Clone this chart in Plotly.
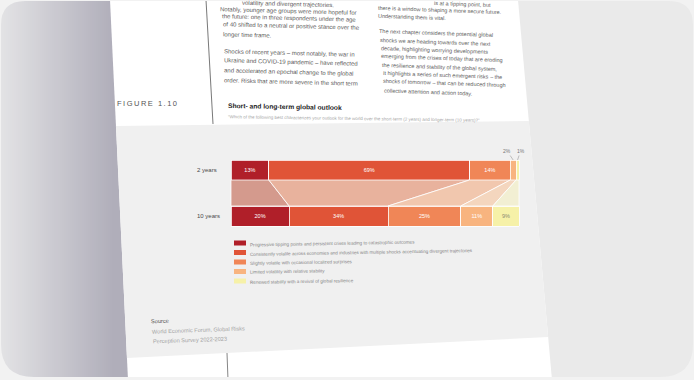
import plotly.graph_objects as go

W, H = 694, 380

# ---------------- data ----------------
periods = ["2 years", "10 years"]
categories = [
    "Progressive tipping points and persistent crises leading to catastrophic outcomes",
    "Consistently volatile across economies and industries with multiple shocks accentuating divergent trajectories",
    "Slightly volatile with occasional localized surprises",
    "Limited volatility with relative stability",
    "Renewed stability with a revival of global resilience",
]
short_term = [13, 69, 14, 2, 1]
long_term = [20, 34, 25, 11, 9]
bar_colors = ["#B01F29", "#E05437", "#F08657", "#F8B47F", "#F6F1A8"]
band_colors = ["#D49A8D", "#E8B29D", "#F1C7AE", "#F4D6BE", "#F2EFD3"]
label_colors = ["#FFFFFF", "#FFFFFF", "#FFFFFF", "#FFFFFF", "#8A8A70"]

figure_label = "FIGURE 1.10"
title = "Short- and long-term global outlook"
subtitle = ("\u201cWhich of the following best characterizes your outlook for the world over the "
            "short-term (2 years) and longer-term (10 years)?\u201d")
source_lines = ["Source", "World Economic Forum, Global Risks", "Perception Survey 2022-2023"]
col1_lines = [
    "volatility and divergent trajectories.",
    "Notably, younger age groups were more hopeful for",
    "the future: one in three respondents under the age",
    "of 40 shifted to a neutral or positive stance over the",
    "longer time frame.",
    "Shocks of recent years \u2013 most notably, the war in",
    "Ukraine and COVID-19 pandemic \u2013 have reflected",
    "and accelerated an epochal change to the global",
    "order. Risks that are more severe in the short term",
]
col2_lines = [
    "is at a tipping point, but",
    "there is a window to shaping a more secure future.",
    "Understanding them is vital.",
    "The next chapter considers the potential global",
    "shocks we are heading towards over the next",
    "decade, highlighting worrying developments",
    "emerging from the crises of today that are eroding",
    "the resilience and stability of the global system,",
    "It highlights a series of such emergent risks \u2013 the",
    "shocks of tomorrow \u2013 that can be reduced through",
    "collective attention and action today.",
]

# ---------------- layout helpers ----------------
FONT = "Liberation Sans, Arial, sans-serif"


def px(x):
    return x / W


def py(y):
    return 1 - y / H


total = sum(short_term)
PX_X0, PX_X1 = 231, 519
sx = (PX_X1 - PX_X0) / total
x_range = [-PX_X0 / sx, total + (W - PX_X1) / sx]
Y_2, Y_10 = 170, 216  # pixel centres of the two bars
sy = (Y_10 - Y_2)
y_range = [-(H - Y_10) / sy, 1 + Y_2 / sy]
bar_w = 20 / sy
y_pos = [1, 0]

fig = go.Figure()

# connecting bands
s2 = s10 = 0
for i in range(len(categories)):
    e2 = s2 + short_term[i]
    e10 = s10 + long_term[i]
    yb = y_pos[0] - bar_w / 2
    yt = y_pos[1] + bar_w / 2
    fig.add_trace(go.Scatter(
        x=[s2, e2, e10, s10, s2], y=[yb, yb, yt, yt, yb],
        mode="lines", fill="toself", fillcolor=band_colors[i],
        line=dict(color="white", width=0.8), hoverinfo="skip", showlegend=False))
    s2, s10 = e2, e10

# stacked bars
for i, cat in enumerate(categories):
    vals = [short_term[i], long_term[i]]
    fig.add_trace(go.Bar(
        y=y_pos, x=vals, orientation="h", width=bar_w, name=cat,
        marker=dict(color=bar_colors[i], line=dict(color="white", width=0.8)),
        text=[f"{v}%" if v >= 5 else "" for v in vals],
        textposition="inside", insidetextanchor="middle", textangle=0,
        textfont=dict(size=5.5, color=label_colors[i], family=FONT),
        hoverinfo="skip", showlegend=False))

annotations = []
# outside labels for tiny segments
cum = 0
offsets = [-6, 3]
k = 0
for i, v in enumerate(short_term):
    if v < 5:
        annotations.append(dict(
            x=cum + v / 2, y=y_pos[0] + bar_w / 2, xref="x", yref="y",
            text=f"{v}%", showarrow=True, arrowhead=0, arrowwidth=0.6,
            arrowcolor="#999999", ax=offsets[k % 2], ay=-9,
            font=dict(size=5, color="#777777", family=FONT)))
        k += 1
    cum += v

# period labels
for p, yv in zip(periods, y_pos):
    annotations.append(dict(
        x=px(195), y=yv, xref="paper", yref="y", text=p, showarrow=False,
        xanchor="left", yanchor="middle",
        font=dict(size=6, color="#4A4A4A", family=FONT)))

# ---------------- background / page shapes ----------------
shapes = []
OUTER = "#F2F2F2"


def rect(x0, y0, x1, y1, color, layer="below"):
    return dict(type="rect", xref="paper", yref="paper",
                x0=px(x0), x1=px(x1), y0=py(y1), y1=py(y0),
                fillcolor=color, line=dict(width=0), layer=layer)


def poly(points, color, layer="below"):
    p = "M " + " L ".join(f"{px(x)},{py(y)}" for x, y in points) + " Z"
    return dict(type="path", xref="paper", yref="paper", path=p,
                fillcolor=color, line=dict(width=0), layer=layer)


shapes.append(rect(0, 0, W, H, "#EAEAEA"))
# left gradient (page shadow)
for x in range(0, 132, 2):
    t = min(x / 112, 1.0)
    c0 = (227, 227, 229)
    c1 = (176, 174, 186)
    col = "rgb(%d,%d,%d)" % tuple(round(a + (b - a) * t) for a, b in zip(c0, c1))
    shapes.append(rect(x, 0, x + 2.5, H, col))


def xl(y):
    return 110 + 18 * y / 380


def xr(y):
    return 518 + 34 * y / 380


shapes.append(poly([(xl(0), 0), (xr(0), 0), (xr(H), H), (xl(H), H)], "#FFFFFF"))
shapes.append(poly([(xl(126), 126), (xr(121), 121), (xr(337), 337), (xl(358), 358)], "#F0F0F0"))
shapes.append(dict(type="line", xref="paper", yref="paper", x0=px(206), y0=py(0),
                   x1=px(213), y1=py(124), line=dict(color="#555555", width=0.8), layer="below"))
shapes.append(dict(type="line", xref="paper", yref="paper", x0=px(227), y0=py(353),
                   x1=px(228), y1=py(380), line=dict(color="#666666", width=0.8), layer="below"))

# legend swatches
for i, cat in enumerate(categories):
    cy = 243 + 9.5 * i
    shapes.append(rect(234, cy - 2.5, 246, cy + 2.5, bar_colors[i], layer="above"))
    annotations.append(dict(
        x=px(248), y=py(cy), xref="paper", yref="paper", text=cat, showarrow=False,
        xanchor="left", yanchor="middle", textangle=-1,
        font=dict(size=4.6, color="#858585", family=FONT)))

# card corners / border masks
Lc, Tc, Rc, Bc = 1, 1, 693, 377


def corner(pts_str):
    return dict(type="path", xref="paper", yref="paper", path=pts_str,
                fillcolor=OUTER, line=dict(width=0), layer="above")


def P(x, y):
    return f"{px(x)},{py(y)}"


rt, rb = 24, 33
shapes.append(corner(f"M {P(0,0)} L {P(0,Tc+rt)} L {P(Lc,Tc+rt)} Q {P(Lc,Tc)} {P(Lc+rt,Tc)} L {P(Lc+rt,0)} Z"))
shapes.append(corner(f"M {P(W,0)} L {P(Rc-rt,0)} L {P(Rc-rt,Tc)} Q {P(Rc,Tc)} {P(Rc,Tc+rt)} L {P(W,Tc+rt)} Z"))
shapes.append(corner(f"M {P(0,H)} L {P(0,Bc-rb)} L {P(Lc,Bc-rb)} Q {P(Lc,Bc)} {P(Lc+rb,Bc)} L {P(Lc+rb,H)} Z"))
shapes.append(corner(f"M {P(W,H)} L {P(Rc-rb,H)} L {P(Rc-rb,Bc)} Q {P(Rc,Bc)} {P(Rc,Bc-rb)} L {P(W,Bc-rb)} Z"))
shapes.append(rect(0, Bc, W, H, OUTER, layer="above"))
shapes.append(rect(0, 0, W, Tc, OUTER, layer="above"))
shapes.append(rect(0, 0, Lc, H, OUTER, layer="above"))
shapes.append(rect(Rc, 0, W, H, OUTER, layer="above"))

# ---------------- text ----------------
col1_y = [4, 11, 18.5, 26.5, 34.5, 53, 62, 72, 82]
col1_x = [240, 218, 220, 221, 221, 222, 222, 222, 222]
for t, xx, yy in zip(col1_lines, col1_x, col1_y):
    annotations.append(dict(x=px(xx), y=py(yy), xref="paper", yref="paper", text=t,
                            showarrow=False, xanchor="left", yanchor="middle", textangle=1.5,
                            font=dict(size=6, color="#5A5A5A", family=FONT)))
col2_y = [4, 10, 17, 33, 42, 50, 58, 67, 75, 83, 92]
col2_x = [432, 376, 376, 377, 378, 379, 379, 380, 381, 381, 382]
for t, xx, yy in zip(col2_lines, col2_x, col2_y):
    annotations.append(dict(x=px(xx), y=py(yy), xref="paper", yref="paper", text=t,
                            showarrow=False, xanchor="left", yanchor="middle", textangle=2,
                            font=dict(size=5.5, color="#5E5E5E", family=FONT)))

annotations.append(dict(x=px(115), y=py(104), xref="paper", yref="paper",
                        text="\u2009".join(figure_label), showarrow=False,
                        xanchor="left", yanchor="middle",
                        font=dict(size=7.5, color="#555555", family=FONT)))
annotations.append(dict(x=px(226), y=py(107), xref="paper", yref="paper",
                        text=f"<b>{title}</b>", showarrow=False, xanchor="left", yanchor="middle",
                        textangle=1, font=dict(size=6.7, color="#222222", family=FONT)))
annotations.append(dict(x=px(226), y=py(118), xref="paper", yref="paper",
                        text=subtitle, showarrow=False, xanchor="left", yanchor="middle",
                        textangle=0.8, font=dict(size=4.5, color="#A5A5A5", family=FONT)))

src_y = [321, 330, 340]
src_x = [149, 150, 151]
src_c = ["#555555", "#A5A5A5", "#A5A5A5"]
for t, xx, yy, cc in zip(source_lines, src_x, src_y, src_c):
    annotations.append(dict(x=px(xx), y=py(yy), xref="paper", yref="paper", text=t,
                            showarrow=False, xanchor="left", yanchor="middle", textangle=-2,
                            font=dict(size=5.6, color=cc, family=FONT)))

fig.update_layout(
    width=W, height=H, margin=dict(l=0, r=0, t=0, b=0, pad=0),
    paper_bgcolor=OUTER, plot_bgcolor="rgba(0,0,0,0)",
    barmode="stack", bargap=0, showlegend=False,
    xaxis=dict(range=x_range, visible=False, fixedrange=True),
    yaxis=dict(range=y_range, visible=False, fixedrange=True),
    shapes=shapes, annotations=annotations,
    font=dict(family=FONT),
)

fig.write_html("out.html", config={"displayModeBar": False, "staticPlot": True})
